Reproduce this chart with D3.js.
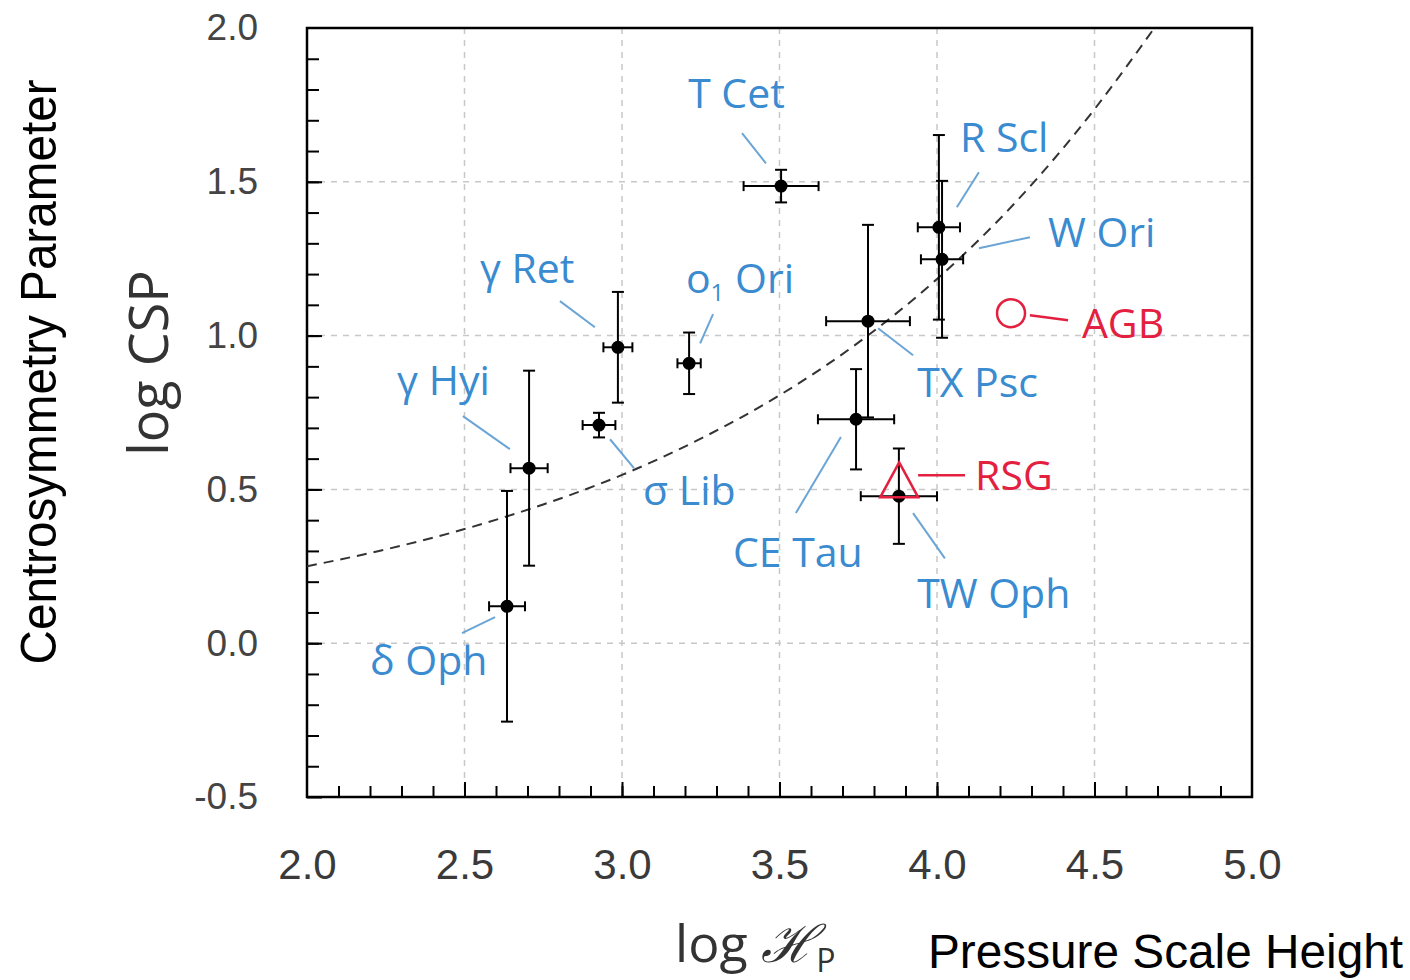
<!doctype html>
<html>
<head>
  <title>log CSP vs log Hp</title>
<style>
  body { margin:0; background:white; }
  svg { display:block; }
  .grid line { stroke:#c8c8c8; stroke-width:1.5px; stroke-dasharray:6,6; }
  .axis path { display:none; }
  .axis line { stroke:black; stroke-width:2px; }
  .ylab text { font-family:"Liberation Sans", Arial, sans-serif; font-size:37px; fill:#444; }
  .xlab text { font-family:"Liberation Sans Narrow", "Liberation Sans", sans-serif; font-size:42px; fill:#3a3a3a; }
  .err { stroke:black; stroke-width:2px; }
  .star { fill:black; }
  .lbl { font-family:"Open Sans", sans-serif; font-size:41px; fill:#3a8bd0; }
  .lead { stroke:#6aa5d6; stroke-width:2px; }
  .red { fill:#e3203f; }
  .redline { stroke:#e3203f; stroke-width:2.5px; fill:none; }
</style>
<script type="text/javascript" src="https://d3js.org/d3.v7.min.js"></script>
</head>

<body>
<svg id="chart" width="1410" height="980"></svg>
<script>

  // stars
  var stars   = ["δ Oph","γ Hyi","σ Lib","γ Ret","o1 Ori","T Cet","CE Tau","TX Psc","TW Oph","R Scl","W Ori"]
  var logHp   = [2.635, 2.705, 2.927, 2.987, 3.213, 3.505, 3.743, 3.781, 3.879, 4.006, 4.016]
  var logCsp  = [0.120, 0.569, 0.709, 0.962, 0.910, 1.486, 0.728, 1.047, 0.478, 1.352, 1.248]
  var errHp   = [0.057, 0.059, 0.052, 0.046, 0.037, 0.119, 0.121, 0.133, 0.121, 0.067, 0.067]
  var errCsp  = [0.375, 0.317, 0.040, 0.180, 0.100, 0.053, 0.163, 0.313, 0.155, 0.300, 0.255]

  // dashed curve, points
  var curveX = [2.0, 2.25, 2.5, 2.75, 3.0, 3.25, 3.5, 3.75, 4.0, 4.25, 4.5, 4.69]
  var curveY = [0.25, 0.305, 0.371, 0.451, 0.547, 0.665, 0.806, 0.977, 1.184, 1.434, 1.736, 2.0]

  // AGB / RSG markers
  var types  = ["AGB", "RSG"]
  var typeX  = [4.235, 3.88]
  var typeY  = [1.073, 0.51]

  var xTicks = [2.0, 2.5, 3.0, 3.5, 4.0, 4.5, 5.0]
  var yTicks = [-0.5, 0.0, 0.5, 1.0, 1.5, 2.0]

  // label anchors and leader lines, in data units
  var labelX  = [2.200, 2.286, 3.067, 2.549, 3.203, 3.210, 3.352, 3.937, 3.937, 4.073, 4.352]
  var labelY  = [-0.104, 0.806, 0.449, 1.170, 1.138, 1.739, 0.247, 0.800, 0.114, 1.596, 1.287]
  var leadX1  = [2.492, 2.495, 2.962, 2.803, 3.289, 3.381, 3.695, 3.813, 3.924, 4.133, 4.295]
  var leadY1  = [0.033, 0.738, 0.663, 1.112, 1.070, 1.658, 0.670, 1.024, 0.423, 1.531, 1.320]
  var leadX2  = [2.597, 2.644, 3.038, 2.914, 3.248, 3.457, 3.552, 3.924, 4.025, 4.063, 4.133]
  var leadY2  = [0.085, 0.631, 0.569, 1.027, 0.975, 1.560, 0.423, 0.936, 0.276, 1.417, 1.284]

  var typeLabelX = [4.46, 4.121]
  var typeLabelY = [0.992, 0.497]
  var typeLeadX1 = [4.295, 3.940]
  var typeLeadY1 = [1.066, 0.546]
  var typeLeadX2 = [4.416, 4.089]
  var typeLeadY2 = [1.050, 0.546]

  var L = 307, T = 28, W = 945, H = 769
  var svg = d3.select("#chart")
  var g = svg.append("g").attr("transform", "translate(" + L + "," + T + ")")

  var x = d3.scaleLinear().domain([2.0, 5.0]).range([0, W])
  var y = d3.scaleLinear().domain([-0.5, 2.0]).range([H, 0])
  var fmt = function(d){ return d3.format(".1f")(d).replace("\u2212", "-") }

  // grid
  g.append("g").attr("class", "grid").selectAll("line")
    .data(xTicks.slice(1, -1)).enter().append("line")
    .attr("x1", function(d){return x(d)}).attr("x2", function(d){return x(d)})
    .attr("y1", 0).attr("y2", H)
  g.append("g").attr("class", "grid").selectAll("line")
    .data(yTicks.slice(1, -1)).enter().append("line")
    .attr("x1", 0).attr("x2", W)
    .attr("y1", function(d){return y(d)}).attr("y2", function(d){return y(d)})

  // minor ticks inside
  var minorX = d3.range(21, 50).map(function(d){return d/10})
  var minorY = d3.range(-4, 20).map(function(d){return d/10})
  g.append("g").attr("class", "axis")
    .attr("transform", "translate(0," + H + ")")
    .call(d3.axisBottom(x).tickValues(minorX).tickSize(-11).tickFormat(""))
  g.append("g").attr("class", "axis")
    .call(d3.axisLeft(y).tickValues(minorY).tickSize(-12).tickFormat(""))

  // major ticks + labels
  g.append("g").attr("class", "axis xlab")
    .attr("transform", "translate(0," + H + ")")
    .call(d3.axisBottom(x).tickValues(xTicks).tickSize(-15).tickPadding(52).tickFormat(fmt))
  g.append("g").attr("class", "axis ylab")
    .call(d3.axisLeft(y).tickValues(yTicks).tickSize(-15).tickPadding(49).tickFormat(fmt))
  g.selectAll(".axis line").filter(function(d){return d == 5.0 || d == 2.0}).remove()

  // frame
  g.append("rect").attr("width", W).attr("height", H)
    .attr("fill", "none").attr("stroke", "black").attr("stroke-width", 2.5)

  // dashed curve
  g.append("clipPath").attr("id", "clip").append("rect").attr("width", W).attr("height", H)
  var line = d3.line()
    .x(function(d,i){return x(curveX[i])})
    .y(function(d,i){return y(curveY[i])})
    .curve(d3.curveMonotoneX)
  g.append("path").datum(curveX)
    .attr("d", line)
    .attr("clip-path", "url(#clip)")
    .attr("fill", "none").attr("stroke", "#333").attr("stroke-width", 2)
    .attr("stroke-dasharray", "10,7")

  // leader lines
  g.selectAll(".lead").data(stars).enter().append("line")
    .attr("class", "lead")
    .attr("x1", function(d,i){return x(leadX1[i])}).attr("y1", function(d,i){return y(leadY1[i])})
    .attr("x2", function(d,i){return x(leadX2[i])}).attr("y2", function(d,i){return y(leadY2[i])})

  // error bars
  var cap = 6
  var bars = g.selectAll(".bar").data(stars).enter().append("g").attr("class", "err")
  bars.append("line")
    .attr("x1", function(d,i){return x(logHp[i])}).attr("x2", function(d,i){return x(logHp[i])})
    .attr("y1", function(d,i){return y(logCsp[i] - errCsp[i])}).attr("y2", function(d,i){return y(logCsp[i] + errCsp[i])})
  bars.append("line")
    .attr("x1", function(d,i){return x(logHp[i] - errHp[i])}).attr("x2", function(d,i){return x(logHp[i] + errHp[i])})
    .attr("y1", function(d,i){return y(logCsp[i])}).attr("y2", function(d,i){return y(logCsp[i])})
  ;[-1, 1].forEach(function(s) {
    bars.append("line")
      .attr("x1", function(d,i){return x(logHp[i]) - cap}).attr("x2", function(d,i){return x(logHp[i]) + cap})
      .attr("y1", function(d,i){return y(logCsp[i] + s*errCsp[i])}).attr("y2", function(d,i){return y(logCsp[i] + s*errCsp[i])})
    bars.append("line")
      .attr("x1", function(d,i){return x(logHp[i] + s*errHp[i])}).attr("x2", function(d,i){return x(logHp[i] + s*errHp[i])})
      .attr("y1", function(d,i){return y(logCsp[i]) - 5}).attr("y2", function(d,i){return y(logCsp[i]) + 5})
  })
  g.selectAll(".star").data(stars).enter().append("circle")
    .attr("class", "star")
    .attr("cx", function(d,i){return x(logHp[i])})
    .attr("cy", function(d,i){return y(logCsp[i])})
    .attr("r", 6.5)

  // star labels
  var lbl = g.selectAll(".lbl").data(stars).enter().append("text")
    .attr("class", "lbl")
    .attr("x", function(d,i){return x(labelX[i])})
    .attr("y", function(d,i){return y(labelY[i])})
  lbl.each(function(d) {
    var t = d3.select(this)
    if (d == "o1 Ori") {
      t.append("tspan").text("o")
      t.append("tspan").attr("font-size", "24px").attr("dy", 8).text("1")
      t.append("tspan").attr("dy", -8).text("\u00a0Ori")
    } else {
      t.text(d.replace(" ", "\u00a0"))
    }
  })

  // AGB circle and RSG triangle
  g.append("circle").attr("class", "redline")
    .attr("cx", x(typeX[0])).attr("cy", y(typeY[0])).attr("r", 14).attr("stroke-width", 4)
  g.append("path").attr("class", "redline")
    .attr("d", "M0,-24L19,11L-19,11Z")
    .attr("transform", "translate(" + x(typeX[1]) + "," + y(typeY[1]) + ")")
    .attr("stroke-width", 4).attr("stroke-linejoin", "miter")
  g.selectAll(".tlead").data(types).enter().append("line")
    .attr("class", "redline")
    .attr("x1", function(d,i){return x(typeLeadX1[i])}).attr("y1", function(d,i){return y(typeLeadY1[i])})
    .attr("x2", function(d,i){return x(typeLeadX2[i])}).attr("y2", function(d,i){return y(typeLeadY2[i])})
  g.selectAll(".tlbl").data(types).enter().append("text")
    .attr("class", "lbl red")
    .attr("x", function(d,i){return x(typeLabelX[i])})
    .attr("y", function(d,i){return y(typeLabelY[i])})
    .text(function(d){return d})

  // axis titles
  svg.append("text")
    .attr("transform", "translate(168,363) rotate(-90)")
    .attr("text-anchor", "middle")
    .attr("font-family", "Open Sans, sans-serif").attr("font-size", 54).attr("fill", "#333")
    .text("log CSP")
  svg.append("text")
    .attr("transform", "translate(56,372) rotate(-90)")
    .attr("text-anchor", "middle")
    .attr("font-family", "Liberation Sans Narrow, Liberation Sans, sans-serif").attr("font-size", 50).attr("fill", "black")
    .attr("textLength", 585).attr("lengthAdjust", "spacingAndGlyphs")
    .text("Centrosymmetry Parameter")
  var xt = svg.append("text")
    .attr("x", 675).attr("y", 962)
    .attr("font-family", "Open Sans, DejaVu Sans, sans-serif").attr("font-size", 52).attr("fill", "#333")
  xt.append("tspan").text("log ")
  xt.append("tspan").attr("font-family", "DejaVu Serif, serif").attr("font-style", "italic").text("\u210B")
  xt.append("tspan").attr("font-size", 32).attr("dy", 10).text("P")
  svg.append("text")
    .attr("x", 928).attr("y", 968)
    .attr("font-family", "Liberation Sans Narrow, Liberation Sans, sans-serif").attr("font-size", 48).attr("fill", "black")
    .attr("textLength", 475).attr("lengthAdjust", "spacingAndGlyphs")
    .text("Pressure Scale Height")

</script>
</body>
</html>
